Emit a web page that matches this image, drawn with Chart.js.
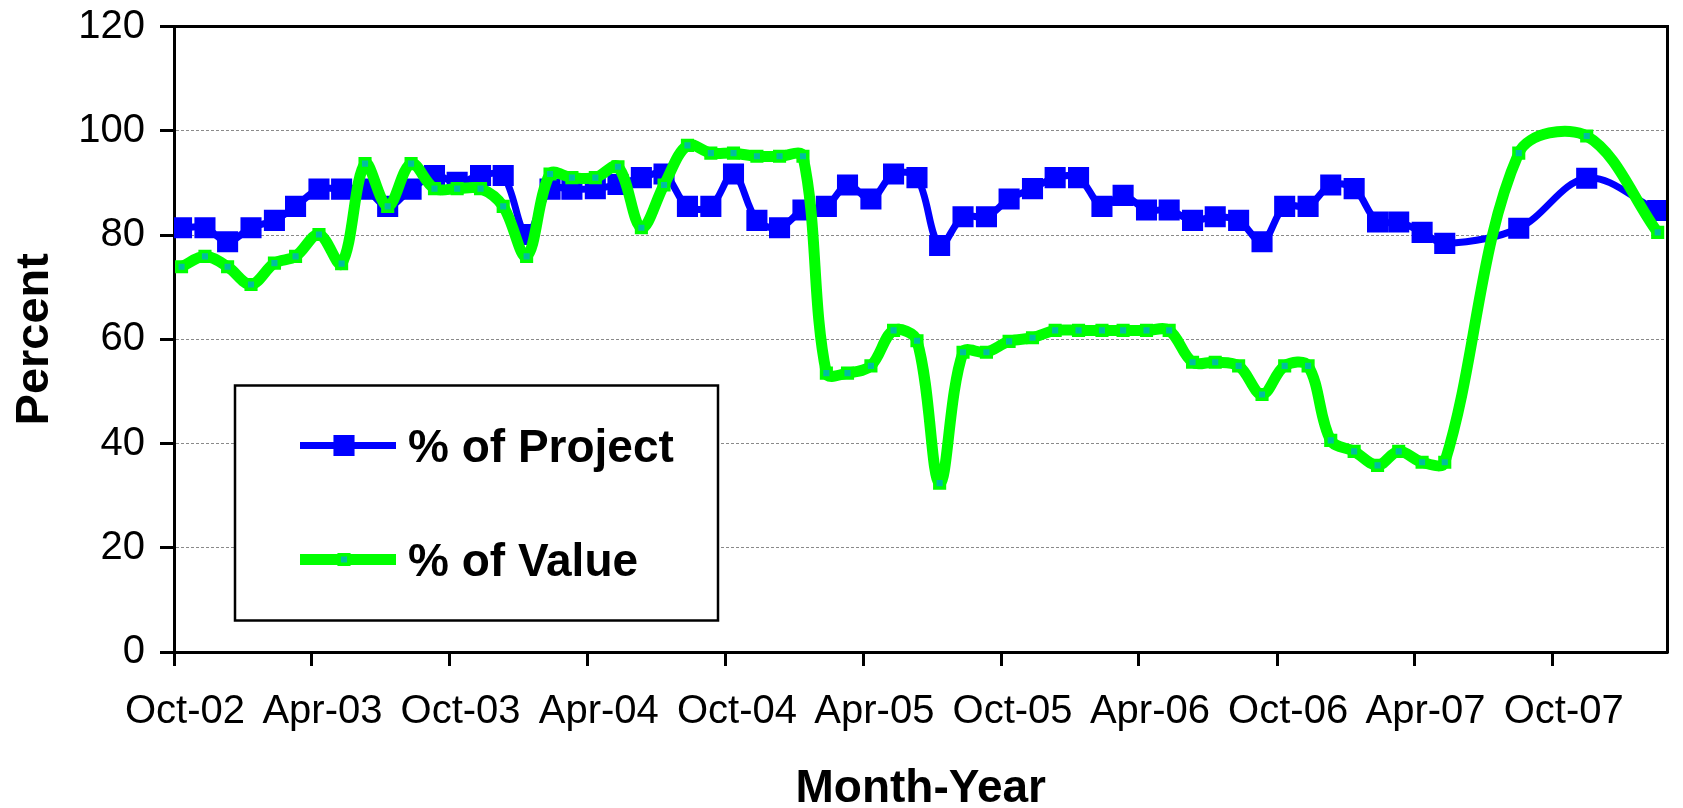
<!DOCTYPE html>
<html>
<head>
<meta charset="utf-8">
<script src="https://cdn.jsdelivr.net/npm/chart.js@4.4.1/dist/chart.umd.min.js"></script>
<style>
  html, body { margin: 0; padding: 0; background: #ffffff; }
  #wrap { width: 1683px; height: 808px; }
</style>
</head>
<body>
<div id="wrap"><canvas id="c" width="1683" height="808"></canvas></div>
<script>
// ---------------- data ----------------
const seriesNames = ['% of Project', '% of Value'];

const sampleDates = [
  '2002-10-11','2002-11-11','2002-12-11','2003-01-11','2003-02-11','2003-03-11',
  '2003-04-11','2003-05-11','2003-06-11','2003-07-11','2003-08-11','2003-09-11',
  '2003-10-11','2003-11-11','2003-12-11','2004-01-11','2004-02-11','2004-03-11',
  '2004-04-11','2004-05-11','2004-06-11','2004-07-11','2004-08-11','2004-09-11',
  '2004-10-11','2004-11-11','2004-12-11','2005-01-11','2005-02-11','2005-03-11',
  '2005-04-11','2005-05-11','2005-06-11','2005-07-11','2005-08-11','2005-09-11',
  '2005-10-11','2005-11-11','2005-12-11','2006-01-11','2006-02-11','2006-03-11',
  '2006-04-11','2006-05-11','2006-06-11','2006-07-11','2006-08-11','2006-09-11',
  '2006-10-11','2006-11-11','2006-12-11','2007-01-11','2007-02-11','2007-03-11',
  '2007-04-11','2007-05-11','2007-08-17','2007-11-15','2008-02-17'
];

const projectPct = [
  81.4, 81.4, 78.7, 81.4, 82.8, 85.5, 88.8, 88.8, 88.8, 85.5,
  88.8, 91.4, 90.1, 91.4, 91.4, 80.1, 88.8, 88.8, 88.9, 89.7,
  91.0, 91.7, 85.5, 85.5, 91.7, 82.8, 81.4, 84.8, 85.5, 89.6,
  86.9, 91.7, 91.0, 78.0, 83.5, 83.5, 86.9, 88.9, 91.0, 91.0,
  85.5, 87.6, 84.8, 84.8, 82.8, 83.5, 82.8, 78.7, 85.5, 85.5,
  89.6, 88.9, 82.5, 82.5, 80.5, 78.4, 81.3, 90.9, 84.7
];

const valuePct = [
  73.9, 75.9, 73.9, 70.5, 74.6, 75.9, 80.1, 74.5, 93.7, 85.5,
  93.7, 88.9, 88.9, 88.9, 85.5, 75.9, 91.7, 91.0, 91.0, 93.1,
  81.4, 89.6, 97.2, 95.7, 95.7, 95.1, 95.1, 95.1, 53.5, 53.5,
  54.9, 61.7, 59.7, 32.4, 57.5, 57.5, 59.6, 60.3, 61.7, 61.7,
  61.7, 61.7, 61.7, 61.7, 55.6, 55.6, 54.9, 49.4, 54.9, 54.9,
  40.6, 38.5, 35.8, 38.5, 36.4, 36.4, 95.7, 99.0, 80.5
];

const tickDates  = ['2002-10-01','2003-04-01','2003-10-01','2004-04-01','2004-10-01','2005-04-01',
                    '2005-10-01','2006-04-01','2006-10-01','2007-04-01','2007-10-01'];
const tickLabels = ['Oct-02','Apr-03','Oct-03','Apr-04','Oct-04','Apr-05',
                    'Oct-05','Apr-06','Oct-06','Apr-07','Oct-07'];
const axisStart = '2002-10-01';
const axisEnd   = '2008-03-01';
const yTicks = [0, 20, 40, 60, 80, 100, 120];

// ---------------- helpers ----------------
function dayNum(s) {
  const p = s.split('-').map(Number);
  return Date.UTC(p[0], p[1] - 1, p[2]) / 86400000;
}
function toPoints(vals) {
  return vals.map((v, i) => ({ x: dayNum(sampleDates[i]), y: v }));
}

const FONT = '"Liberation Sans", Arial, Helvetica, sans-serif';

function drawSquare(ctx, cx, cy, radius, bw, fill, stroke) {
  const s = Math.SQRT1_2 * radius;
  ctx.beginPath();
  ctx.rect(cx - s, cy - s, 2 * s, 2 * s);
  ctx.fillStyle = fill;
  ctx.fill();
  if (bw > 0) { ctx.lineWidth = bw; ctx.strokeStyle = stroke; ctx.stroke(); }
}

const frameAndLegend = {
  id: 'frameAndLegend',
  afterDraw(chart) {
    const ctx = chart.ctx, ca = chart.chartArea;
    ctx.save();
    ctx.setLineDash([]);
    ctx.strokeStyle = '#000';
    ctx.lineWidth = 3;
    ctx.beginPath();
    ctx.moveTo(ca.left - 1.5, ca.top);
    ctx.lineTo(ca.right, ca.top);
    ctx.lineTo(ca.right, ca.bottom + 1.5);
    ctx.stroke();

    // legend box
    const bx = ca.left + 61, by = ca.top + 359, bw = 483, bh = 235;
    ctx.fillStyle = '#fff';
    ctx.fillRect(bx, by, bw, bh);
    ctx.lineWidth = 2.5;
    ctx.strokeStyle = '#000';
    ctx.strokeRect(bx, by, bw, bh);

    const rowY = [by + 60, by + 174];
    chart.data.datasets.forEach((ds, i) => {
      const y = rowY[i];
      ctx.strokeStyle = ds.borderColor;
      ctx.lineWidth = ds.borderWidth;
      ctx.lineCap = 'butt';
      ctx.beginPath();
      ctx.moveTo(bx + 65, y);
      ctx.lineTo(bx + 161, y);
      ctx.stroke();
      drawSquare(ctx, bx + 109, y, ds.pointRadius, ds.pointBorderWidth,
                 ds.pointBackgroundColor, ds.pointBorderColor);
      ctx.fillStyle = '#000';
      ctx.font = 'bold 46px ' + FONT;
      ctx.textBaseline = 'alphabetic';
      ctx.textAlign = 'left';
      ctx.fillText(ds.label, bx + 173, y + 16);
    });
    ctx.restore();
  }
};

new Chart(document.getElementById('c'), {
  type: 'line',
  data: {
    datasets: [
      {
        label: seriesNames[0],
        data: toPoints(projectPct),
        order: 2,
        borderColor: '#0000FF',
        borderWidth: 7,
        tension: 0.35,
        borderJoinStyle: 'round',
        borderCapStyle: 'round',
        pointStyle: 'rect',
        pointRadius: 13.5,
        pointBorderWidth: 2,
        pointBackgroundColor: '#0000FF',
        pointBorderColor: '#0000FF',
        fill: false
      },
      {
        label: seriesNames[1],
        data: toPoints(valuePct),
        order: 1,
        borderColor: '#00FF00',
        borderWidth: 11,
        tension: 0.35,
        borderJoinStyle: 'round',
        borderCapStyle: 'round',
        pointStyle: 'rect',
        pointRadius: 6.8,
        pointBorderWidth: 3.5,
        pointBackgroundColor: '#00BF9F',
        pointBorderColor: '#00FF00',
        fill: false
      }
    ]
  },
  options: {
    responsive: false,
    devicePixelRatio: 1,
    animation: false,
    layout: { padding: { top: 26.5, right: 5, bottom: 0, left: 0 } },
    plugins: { legend: { display: false }, tooltip: { enabled: false } },
    scales: {
      x: {
        type: 'linear',
        min: dayNum(axisStart),
        max: dayNum(axisEnd),
        afterBuildTicks: (axis) => { axis.ticks = tickDates.map(d => ({ value: dayNum(d) })); },
        afterFit: (s) => { s.height = 156; },
        ticks: {
          autoSkip: false,
          maxRotation: 0,
          padding: 22,
          labelOffset: 11,
          color: '#000',
          font: { family: FONT, size: 40 },
          callback: (v, i) => tickLabels[i]
        },
        grid: {
          drawOnChartArea: false,
          drawTicks: true,
          tickLength: 14,
          tickColor: '#000',
          tickWidth: 3
        },
        border: { display: true, color: '#000', width: 3 },
        title: {
          display: true,
          text: 'Month-Year',
          color: '#000',
          font: { family: FONT, size: 46, weight: 'bold', lineHeight: 0.8 },
          padding: { top: 0, bottom: 0 }
        }
      },
      y: {
        min: 0,
        max: 120,
        afterBuildTicks: (axis) => { axis.ticks = yTicks.map(v => ({ value: v })); },
        afterFit: (s) => { s.width = 174; },
        ticks: {
          padding: 15,
          color: '#000',
          font: { family: FONT, size: 40, lineHeight: 0.25 }
        },
        grid: {
          color: '#8a8a8a',
          lineWidth: 1,
          drawTicks: true,
          tickLength: 14,
          tickColor: '#000',
          tickWidth: 3,
          tickBorderDash: [1, 0]
        },
        border: { display: true, color: '#000', width: 3, dash: [3, 2] },
        title: {
          display: true,
          text: 'Percent',
          color: '#000',
          font: { family: FONT, size: 47, weight: 'bold' },
          padding: { top: 7, bottom: 0 }
        }
      }
    }
  },
  plugins: [frameAndLegend]
});
</script>
</body>
</html>
